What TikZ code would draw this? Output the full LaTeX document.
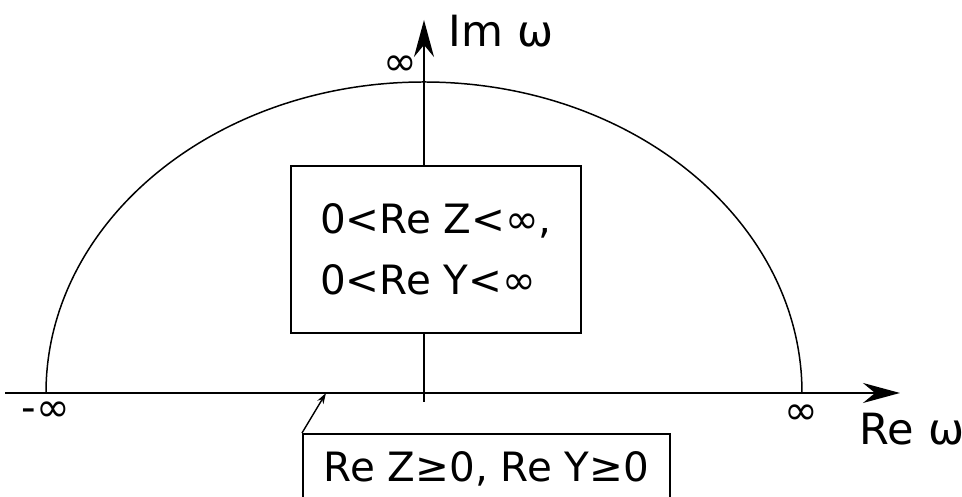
\documentclass[tikz,border=0pt]{standalone}
\usepackage{fontspec}
\setmainfont{DejaVu Sans}
\usetikzlibrary{arrows.meta}

\begin{document}
\begin{tikzpicture}[line width=1.1pt,
        axis/.style={-{Stealth[length=7.4mm,width=4mm]}},
        lbl/.style={font=\fontsize{24.5}{30}\selectfont},
        inf/.style={font=\fontsize{23}{26}\selectfont},
        box/.style={draw,fill=white,font=\fontsize{23}{34.6}\selectfont}]
        \useasboundingbox (0,0) rectangle (19.24,9.94);
        \clip (0,0) rectangle (19.24,9.94);
        \coordinate (O) at (8.48,2.08);
        \coordinate (xs) at (0.1,2.08);
        \coordinate (xe) at (18,2.08);
        \coordinate (ys) at (8.48,1.9);
        \coordinate (ye) at (8.48,9.54);
        % axis
        \path[draw,axis](xs)to(xe);
        \path[draw,axis](ys)to(ye);
        \node[lbl,anchor=base west,inner sep=0pt] (im) at (8.96,9.0) {Im ω};
        \node[lbl,anchor=base west,inner sep=0pt] (re) at (17.18,1.04) {Re ω};
        % contour
        \path[draw,line width=0.85pt](O) ++(7.56,0) arc[start angle=0,end angle=180,x radius=7.56,y radius=6.22];
        \node[inf] (inftop) at (8.0,8.62) {∞};
        \node[inf] (infleft) at (0.92,1.7) {-∞};
        \node[inf] (infright) at (16.02,1.64) {∞};
        % regions
        \node[box,align=left,minimum width=5.8cm,minimum height=3.34cm] (upper) at (8.72,4.95) {0<Re Z<∞,\\0<Re Y<∞};
        \node[box,anchor=north west,minimum width=7.34cm,minimum height=1.4cm] (axiscond) at (6.04,1.28) {Re Z≥0, Re Y≥0};
        \coordinate (P) at (6.52,2.08);
        \path[draw,-{Stealth[length=2.2mm,width=1.4mm]},line width=0.8pt](axiscond.north west)to(P);
    \end{tikzpicture}
\end{document}
